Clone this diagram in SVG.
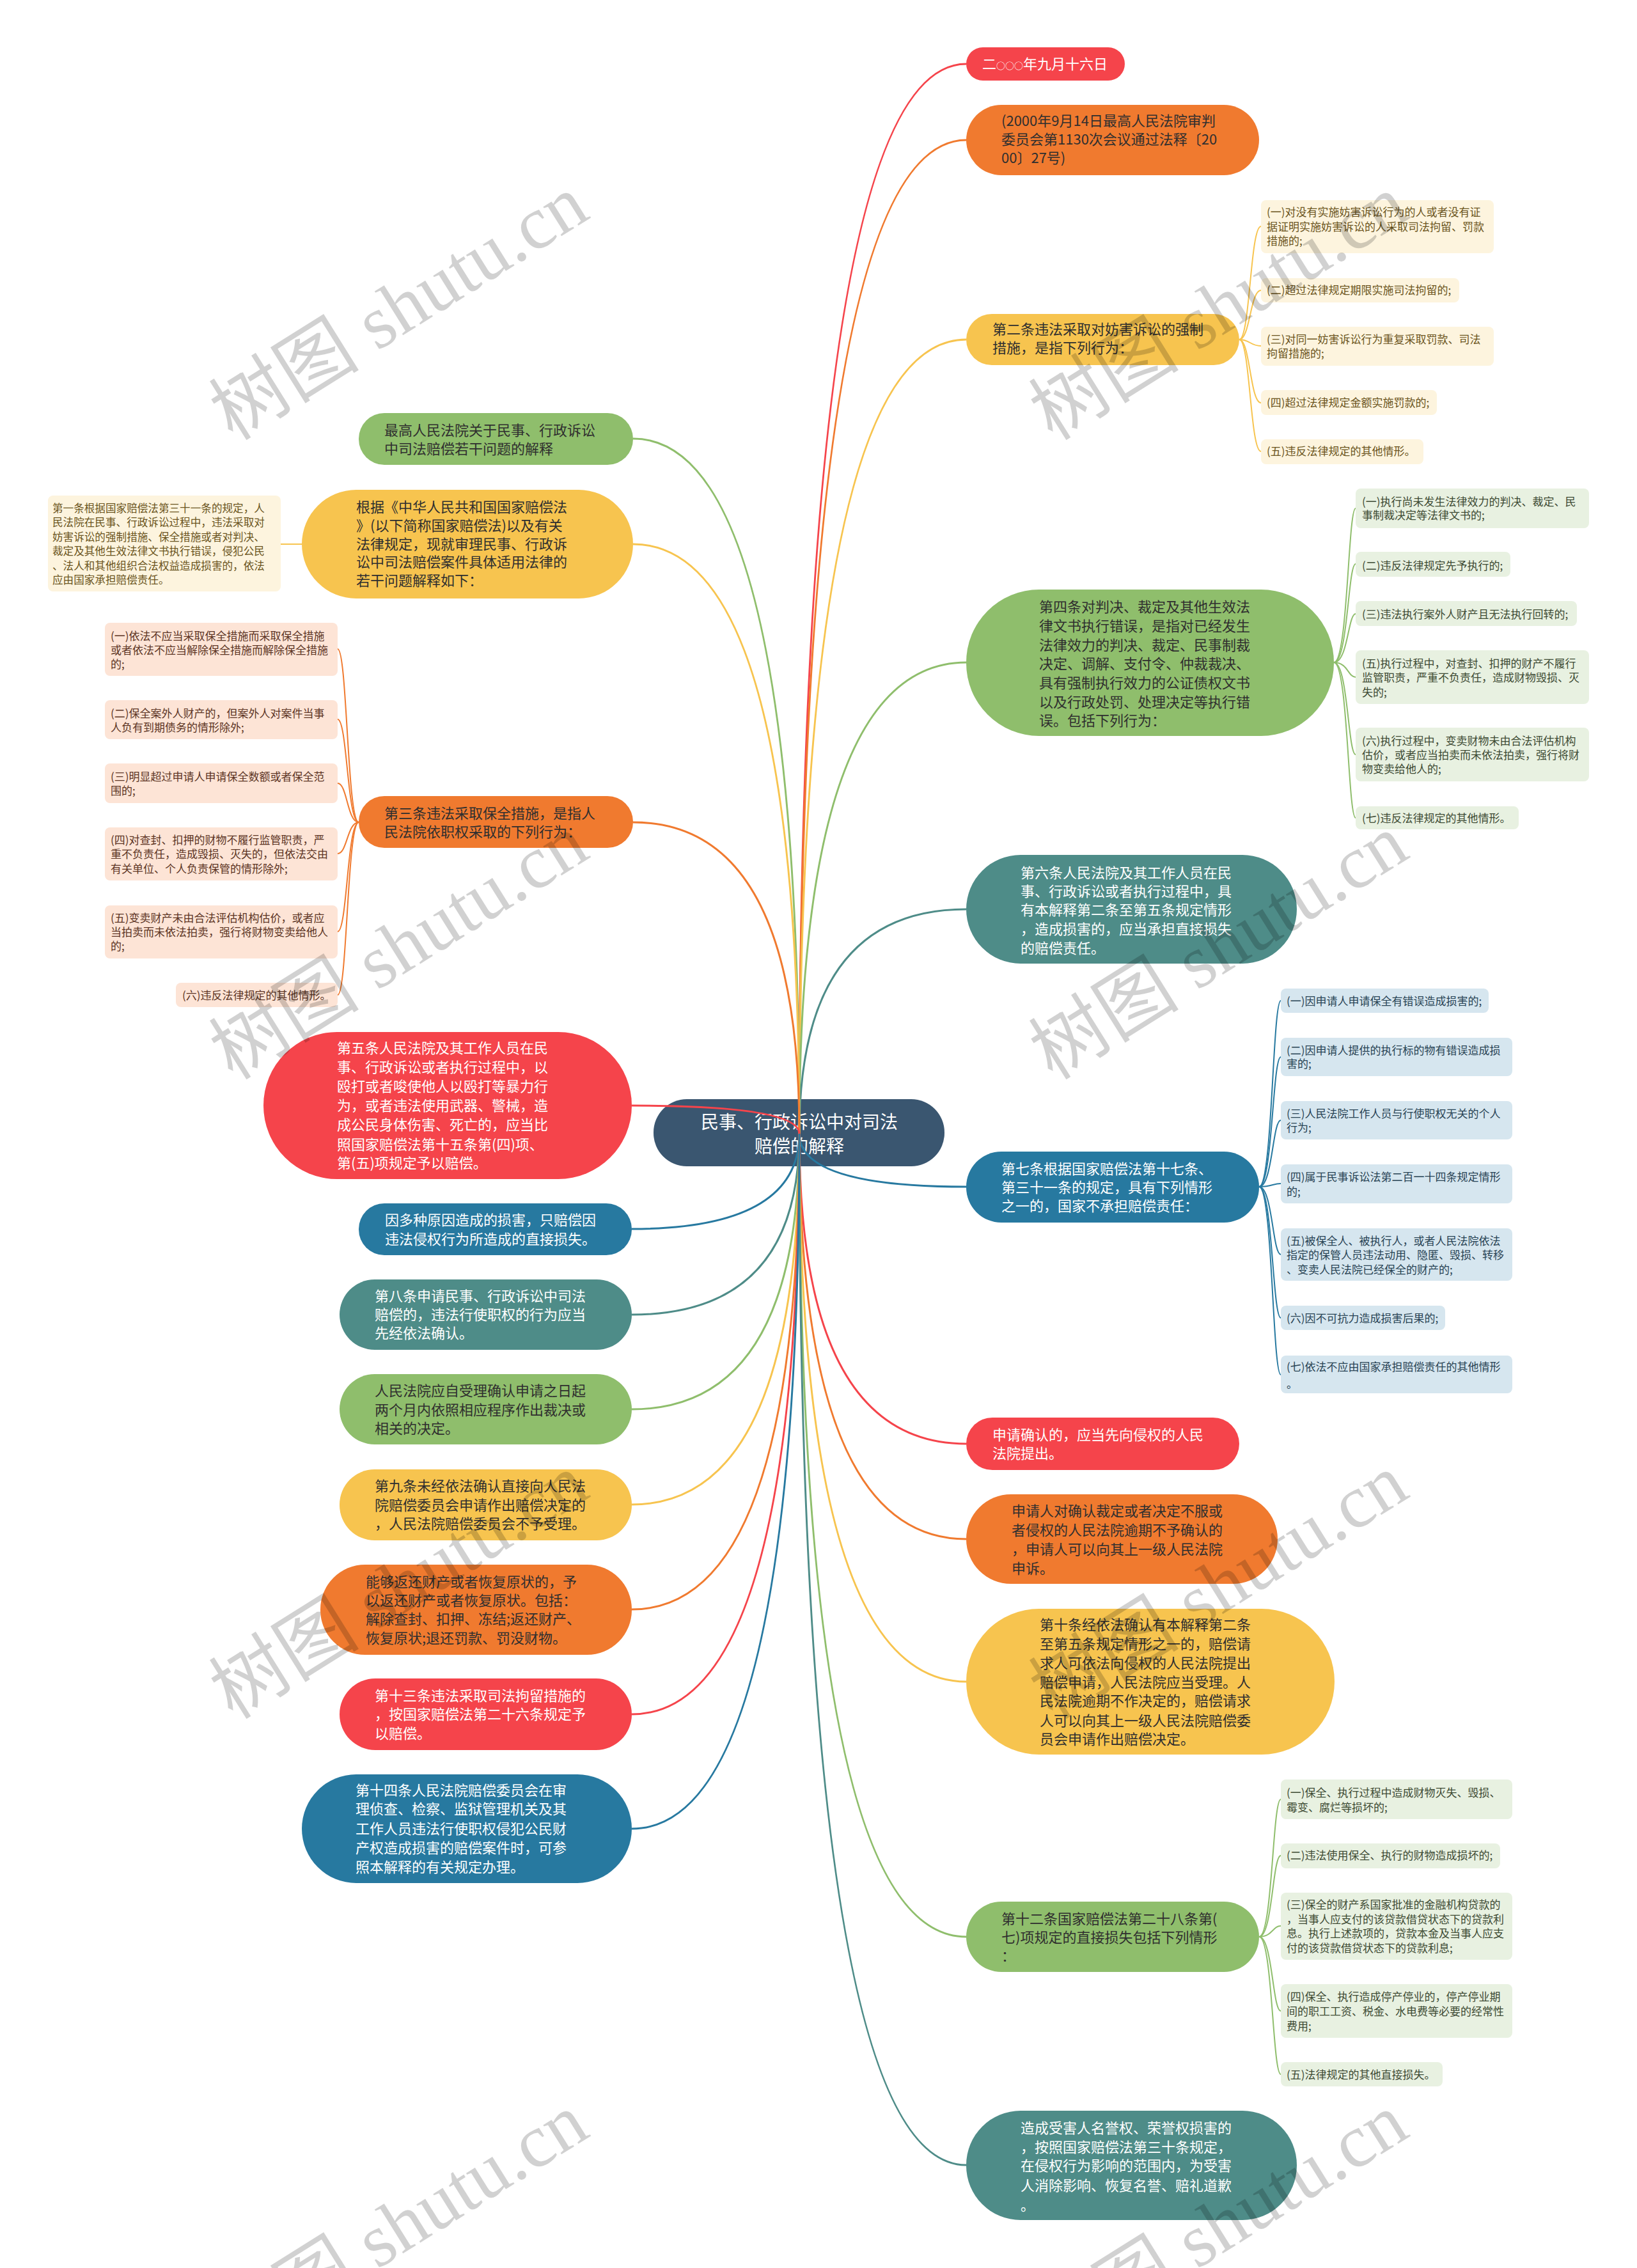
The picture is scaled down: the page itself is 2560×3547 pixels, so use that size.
<svg xmlns="http://www.w3.org/2000/svg" width="2560" height="3547" viewBox="0 0 2560 3547">
<style>
text { font-family: "Noto Sans CJK SC", "Liberation Sans", sans-serif; }
.t1 { font-size: 22px; }
.t2 { font-size: 17px; }
.t0 { font-size: 28px; fill: #ffffff; }
.w { fill: #ffffff; }
.d { fill: #2f2f2f; }
.cy { fill: #6b5420; }
.cg { fill: #3d4a33; }
.cb { fill: #284354; }
.co { fill: #5c3424; }
.red { fill: #f5444b; }
.org { fill: #f07a2f; }
.yel { fill: #f7c44f; }
.grn { fill: #8fbe6c; }
.tea { fill: #4e8c88; }
.blu { fill: #2779a0; }
.by { fill: #fdf4de; }
.bg { fill: #e8f1e1; }
.bb { fill: #d6e6ef; }
.bo { fill: #fde4d6; }
.c { fill: none; stroke-width: 3; }
.s { fill: none; stroke-width: 2; }
.sr { stroke: #f5444b; } .so { stroke: #f07a2f; } .sy { stroke: #f7c44f; }
.sg { stroke: #8fbe6c; } .st { stroke: #4e8c88; } .sb { stroke: #2779a0; }
.wm { font-family: "Liberation Serif", "Noto Sans CJK SC", serif; font-size: 118px; fill: #000000; fill-opacity: 0.18; }
</style>
<rect x="0" y="0" width="2560" height="3547" fill="#ffffff"/>

<g id="root">
<rect x="1022" y="1719" width="455" height="105" rx="52" fill="#3a5670"/>
<text class="t0" text-anchor="middle"><tspan x="1250" y="1765">民事、行政诉讼中对司法</tspan><tspan x="1250" y="1803">赔偿的解释</tspan></text>
</g>

<g id="connectors">
<path class="c sr" d="M1250 1773 Q1250 100 1511 100"/>
<path class="c so" d="M1250 1773 Q1250 219 1511 219"/>
<path class="c sy" d="M1250 1773 Q1250 531 1511 531"/>
<path class="c sg" d="M1250 1773 Q1250 1036 1511 1036"/>
<path class="c st" d="M1250 1773 Q1250 1422 1511 1422"/>
<path class="c sb" d="M1250 1773 Q1250 1856 1511 1856"/>
<path class="c sr" d="M1250 1773 Q1250 2258 1511 2258"/>
<path class="c so" d="M1250 1773 Q1250 2407 1511 2407"/>
<path class="c sy" d="M1250 1773 Q1250 2630 1511 2630"/>
<path class="c sg" d="M1250 1773 Q1250 3029 1511 3029"/>
<path class="c st" d="M1250 1773 Q1250 3386 1511 3386"/>
<path class="c sg" d="M1250 1773 Q1250 686 990 686"/>
<path class="c sy" d="M1250 1773 Q1250 851 990 851"/>
<path class="c so" d="M1250 1773 Q1250 1286 990 1286"/>
<path class="c sr" d="M1250 1773 Q1250 1729 988 1729"/>
<path class="c sb" d="M1250 1773 Q1250 1922 988 1922"/>
<path class="c st" d="M1250 1773 Q1250 2056 988 2056"/>
<path class="c sg" d="M1250 1773 Q1250 2204 988 2204"/>
<path class="c sy" d="M1250 1773 Q1250 2353 988 2353"/>
<path class="c so" d="M1250 1773 Q1250 2517 988 2517"/>
<path class="c sr" d="M1250 1773 Q1250 2681 988 2681"/>
<path class="c sb" d="M1250 1773 Q1250 2860 988 2860"/>
<!-- art2 children -->
<path class="s sy" d="M1938 531 C1955 531 1955 354 1972 354"/>
<path class="s sy" d="M1938 531 C1955 531 1955 454 1972 454"/>
<path class="s sy" d="M1938 531 C1955 531 1955 541 1972 541"/>
<path class="s sy" d="M1938 531 C1955 531 1955 630 1972 630"/>
<path class="s sy" d="M1938 531 C1955 531 1955 706 1972 706"/>
<!-- art4 children -->
<path class="s sg" d="M2086 1036 C2108 1036 2108 795 2120 795"/>
<path class="s sg" d="M2086 1036 C2108 1036 2108 882 2120 882"/>
<path class="s sg" d="M2086 1036 C2108 1036 2108 960 2120 960"/>
<path class="s sg" d="M2086 1036 C2108 1036 2108 1059 2120 1059"/>
<path class="s sg" d="M2086 1036 C2108 1036 2108 1180 2120 1180"/>
<path class="s sg" d="M2086 1036 C2108 1036 2108 1279 2120 1279"/>
<!-- art7 children -->
<path class="s sb" d="M1969 1856 C1990 1856 1990 1565 2003 1565"/>
<path class="s sb" d="M1969 1856 C1990 1856 1990 1653 2003 1653"/>
<path class="s sb" d="M1969 1856 C1990 1856 1990 1752 2003 1752"/>
<path class="s sb" d="M1969 1856 C1990 1856 1990 1851 2003 1851"/>
<path class="s sb" d="M1969 1856 C1990 1856 1990 1962 2003 1962"/>
<path class="s sb" d="M1969 1856 C1990 1856 1990 2061 2003 2061"/>
<path class="s sb" d="M1969 1856 C1990 1856 1990 2150 2003 2150"/>
<!-- art12 children -->
<path class="s sg" d="M1969 3029 C1990 3029 1990 2814 2003 2814"/>
<path class="s sg" d="M1969 3029 C1990 3029 1990 2902 2003 2902"/>
<path class="s sg" d="M1969 3029 C1990 3029 1990 3012 2003 3012"/>
<path class="s sg" d="M1969 3029 C1990 3029 1990 3145 2003 3145"/>
<path class="s sg" d="M1969 3029 C1990 3029 1990 3244 2003 3244"/>
<!-- art3 children -->
<path class="s so" d="M561 1286 C543 1286 543 1015 528 1015"/>
<path class="s so" d="M561 1286 C543 1286 543 1125 528 1125"/>
<path class="s so" d="M561 1286 C543 1286 543 1225 528 1225"/>
<path class="s so" d="M561 1286 C543 1286 543 1335 528 1335"/>
<path class="s so" d="M561 1286 C543 1286 543 1457 528 1457"/>
<path class="s so" d="M561 1286 C543 1286 543 1556 528 1556"/>
<!-- basis child -->
<path class="s sy" d="M472 851 L439 851"/>
</g>

<g id="n_date">
<rect class="red" x="1511" y="74" width="248" height="52" rx="26"/>
<text class="t1 w" x="1536" y="108">二<tspan style="font-size:14px">○○○</tspan>年九月十六日</text>
</g>

<g id="n_adopt">
<rect class="org" x="1511" y="164" width="458" height="110" rx="55"/>
<text class="t1 d"><tspan x="1566" y="197">(2000年9月14日最高人民法院审判</tspan><tspan x="1566" y="226">委员会第1130次会议通过法释〔20</tspan><tspan x="1566" y="255">00〕27号)</tspan></text>
</g>

<g id="n_art2">
<rect class="yel" x="1511" y="491" width="427" height="80" rx="40"/>
<text class="t1 d"><tspan x="1552" y="523">第二条违法采取对妨害诉讼的强制</tspan><tspan x="1552" y="552">措施，是指下列行为：</tspan></text>
</g>
<g id="n_art2_1">
<rect class="by" x="1972" y="313" width="364" height="83" rx="8"/>
<text class="t2 cy"><tspan x="1981" y="338">(一)对没有实施妨害诉讼行为的人或者没有证</tspan><tspan x="1981" y="361">据证明实施妨害诉讼的人采取司法拘留、罚款</tspan><tspan x="1981" y="383">措施的;</tspan></text>
</g>
<g id="n_art2_2">
<rect class="by" x="1972" y="435" width="310" height="38" rx="8"/>
<text class="t2 cy" x="1981" y="460">(二)超过法律规定期限实施司法拘留的;</text>
</g>
<g id="n_art2_3">
<rect class="by" x="1972" y="511" width="364" height="61" rx="8"/>
<text class="t2 cy"><tspan x="1981" y="537">(三)对同一妨害诉讼行为重复采取罚款、司法</tspan><tspan x="1981" y="559">拘留措施的;</tspan></text>
</g>
<g id="n_art2_4">
<rect class="by" x="1972" y="610" width="275" height="39" rx="8"/>
<text class="t2 cy" x="1981" y="636">(四)超过法律规定金额实施罚款的;</text>
</g>
<g id="n_art2_5">
<rect class="by" x="1972" y="687" width="254" height="39" rx="8"/>
<text class="t2 cy" x="1981" y="712">(五)违反法律规定的其他情形。</text>
</g>

<g id="n_art4">
<rect class="grn" x="1511" y="922" width="575" height="229" rx="114"/>
<text class="t1 d"><tspan x="1625" y="957">第四条对判决、裁定及其他生效法</tspan><tspan x="1625" y="987">律文书执行错误，是指对已经发生</tspan><tspan x="1625" y="1017">法律效力的判决、裁定、民事制裁</tspan><tspan x="1625" y="1046">决定、调解、支付令、仲裁裁决、</tspan><tspan x="1625" y="1076">具有强制执行效力的公证债权文书</tspan><tspan x="1625" y="1106">以及行政处罚、处理决定等执行错</tspan><tspan x="1625" y="1135">误。包括下列行为：</tspan></text>
</g>
<g id="n_art4_1">
<rect class="bg" x="2120" y="764" width="365" height="62" rx="8"/>
<text class="t2 cg"><tspan x="2130" y="791">(一)执行尚未发生法律效力的判决、裁定、民</tspan><tspan x="2130" y="812">事制裁决定等法律文书的;</tspan></text>
</g>
<g id="n_art4_2">
<rect class="bg" x="2120" y="863" width="242" height="39" rx="8"/>
<text class="t2 cg" x="2130" y="891">(二)违反法律规定先予执行的;</text>
</g>
<g id="n_art4_3">
<rect class="bg" x="2120" y="940" width="346" height="39" rx="8"/>
<text class="t2 cg" x="2130" y="967">(三)违法执行案外人财产且无法执行回转的;</text>
</g>
<g id="n_art4_5">
<rect class="bg" x="2120" y="1017" width="365" height="84" rx="8"/>
<text class="t2 cg"><tspan x="2130" y="1044">(五)执行过程中，对查封、扣押的财产不履行</tspan><tspan x="2130" y="1066">监管职责，严重不负责任，造成财物毁损、灭</tspan><tspan x="2130" y="1089">失的;</tspan></text>
</g>
<g id="n_art4_6">
<rect class="bg" x="2120" y="1138" width="365" height="84" rx="8"/>
<text class="t2 cg"><tspan x="2130" y="1165">(六)执行过程中，变卖财物未由合法评估机构</tspan><tspan x="2130" y="1187">估价，或者应当拍卖而未依法拍卖，强行将财</tspan><tspan x="2130" y="1209">物变卖给他人的;</tspan></text>
</g>
<g id="n_art4_7">
<rect class="bg" x="2120" y="1261" width="255" height="36" rx="8"/>
<text class="t2 cg" x="2130" y="1286">(七)违反法律规定的其他情形。</text>
</g>

<g id="n_art6">
<rect class="tea" x="1511" y="1337" width="517" height="170" rx="85"/>
<text class="t1 w"><tspan x="1596" y="1373">第六条人民法院及其工作人员在民</tspan><tspan x="1596" y="1402">事、行政诉讼或者执行过程中，具</tspan><tspan x="1596" y="1431">有本解释第二条至第五条规定情形</tspan><tspan x="1596" y="1461">，造成损害的，应当承担直接损失</tspan><tspan x="1596" y="1491">的赔偿责任。</tspan></text>
</g>

<g id="n_art7">
<rect class="blu" x="1511" y="1801" width="458" height="111" rx="55"/>
<text class="t1 w"><tspan x="1566" y="1836">第七条根据国家赔偿法第十七条、</tspan><tspan x="1566" y="1865">第三十一条的规定，具有下列情形</tspan><tspan x="1566" y="1894">之一的，国家不承担赔偿责任：</tspan></text>
</g>
<g id="n_art7_1">
<rect class="bb" x="2003" y="1546" width="325" height="38" rx="8"/>
<text class="t2 cb" x="2012" y="1572">(一)因申请人申请保全有错误造成损害的;</text>
</g>
<g id="n_art7_2">
<rect class="bb" x="2003" y="1623" width="362" height="60" rx="8"/>
<text class="t2 cb"><tspan x="2012" y="1649">(二)因申请人提供的执行标的物有错误造成损</tspan><tspan x="2012" y="1670">害的;</tspan></text>
</g>
<g id="n_art7_3">
<rect class="bb" x="2003" y="1722" width="362" height="60" rx="8"/>
<text class="t2 cb"><tspan x="2012" y="1748">(三)人民法院工作人员与行使职权无关的个人</tspan><tspan x="2012" y="1770">行为;</tspan></text>
</g>
<g id="n_art7_4">
<rect class="bb" x="2003" y="1821" width="362" height="61" rx="8"/>
<text class="t2 cb"><tspan x="2012" y="1847">(四)属于民事诉讼法第二百一十四条规定情形</tspan><tspan x="2012" y="1870">的;</tspan></text>
</g>
<g id="n_art7_5">
<rect class="bb" x="2003" y="1921" width="362" height="82" rx="8"/>
<text class="t2 cb"><tspan x="2012" y="1947">(五)被保全人、被执行人，或者人民法院依法</tspan><tspan x="2012" y="1969">指定的保管人员违法动用、隐匿、毁损、转移</tspan><tspan x="2012" y="1992">、变卖人民法院已经保全的财产的;</tspan></text>
</g>
<g id="n_art7_6">
<rect class="bb" x="2003" y="2042" width="257" height="38" rx="8"/>
<text class="t2 cb" x="2012" y="2068">(六)因不可抗力造成损害后果的;</text>
</g>
<g id="n_art7_7">
<rect class="bb" x="2003" y="2120" width="362" height="59" rx="8"/>
<text class="t2 cb"><tspan x="2012" y="2144">(七)依法不应由国家承担赔偿责任的其他情形</tspan><tspan x="2012" y="2171">。</tspan></text>
</g>

<g id="n_confirm">
<rect class="red" x="1511" y="2217" width="427" height="82" rx="41"/>
<text class="t1 w"><tspan x="1552" y="2252">申请确认的，应当先向侵权的人民</tspan><tspan x="1552" y="2281">法院提出。</tspan></text>
</g>

<g id="n_appeal">
<rect class="org" x="1511" y="2337" width="487" height="140" rx="70"/>
<text class="t1 d"><tspan x="1582" y="2371">申请人对确认裁定或者决定不服或</tspan><tspan x="1582" y="2401">者侵权的人民法院逾期不予确认的</tspan><tspan x="1582" y="2431">，申请人可以向其上一级人民法院</tspan><tspan x="1582" y="2461">申诉。</tspan></text>
</g>

<g id="n_art10">
<rect class="yel" x="1511" y="2516" width="576" height="228" rx="114"/>
<text class="t1 d"><tspan x="1626" y="2549">第十条经依法确认有本解释第二条</tspan><tspan x="1626" y="2579">至第五条规定情形之一的，赔偿请</tspan><tspan x="1626" y="2609">求人可依法向侵权的人民法院提出</tspan><tspan x="1626" y="2639">赔偿申请，人民法院应当受理。人</tspan><tspan x="1626" y="2668">民法院逾期不作决定的，赔偿请求</tspan><tspan x="1626" y="2699">人可以向其上一级人民法院赔偿委</tspan><tspan x="1626" y="2728">员会申请作出赔偿决定。</tspan></text>
</g>

<g id="n_art12">
<rect class="grn" x="1511" y="2974" width="458" height="110" rx="55"/>
<text class="t1 d"><tspan x="1566" y="3009">第十二条国家赔偿法第二十八条第(</tspan><tspan x="1566" y="3038">七)项规定的直接损失包括下列情形</tspan><tspan x="1566" y="3067">：</tspan></text>
</g>
<g id="n_art12_1">
<rect class="bg" x="2003" y="2783" width="362" height="62" rx="8"/>
<text class="t2 cg"><tspan x="2012" y="2810">(一)保全、执行过程中造成财物灭失、毁损、</tspan><tspan x="2012" y="2833">霉变、腐烂等损坏的;</tspan></text>
</g>
<g id="n_art12_2">
<rect class="bg" x="2003" y="2883" width="343" height="39" rx="8"/>
<text class="t2 cg" x="2012" y="2908">(二)违法使用保全、执行的财物造成损坏的;</text>
</g>
<g id="n_art12_3">
<rect class="bg" x="2003" y="2960" width="362" height="105" rx="8"/>
<text class="t2 cg"><tspan x="2012" y="2985">(三)保全的财产系国家批准的金融机构贷款的</tspan><tspan x="2012" y="3008">，当事人应支付的该贷款借贷状态下的贷款利</tspan><tspan x="2012" y="3030">息。执行上述款项的，贷款本金及当事人应支</tspan><tspan x="2012" y="3053">付的该贷款借贷状态下的贷款利息;</tspan></text>
</g>
<g id="n_art12_4">
<rect class="bg" x="2003" y="3103" width="362" height="84" rx="8"/>
<text class="t2 cg"><tspan x="2012" y="3129">(四)保全、执行造成停产停业的，停产停业期</tspan><tspan x="2012" y="3152">间的职工工资、税金、水电费等必要的经常性</tspan><tspan x="2012" y="3175">费用;</tspan></text>
</g>
<g id="n_art12_5">
<rect class="bg" x="2003" y="3225" width="253" height="38" rx="8"/>
<text class="t2 cg" x="2012" y="3251">(五)法律规定的其他直接损失。</text>
</g>

<g id="n_reputation">
<rect class="tea" x="1511" y="3301" width="517" height="171" rx="85"/>
<text class="t1 w"><tspan x="1596" y="3336">造成受害人名誉权、荣誉权损害的</tspan><tspan x="1596" y="3366">，按照国家赔偿法第三十条规定，</tspan><tspan x="1596" y="3395">在侵权行为影响的范围内，为受害</tspan><tspan x="1596" y="3426">人消除影响、恢复名誉、赔礼道歉</tspan><tspan x="1596" y="3457">。</tspan></text>
</g>

<g id="n_title">
<rect class="grn" x="561" y="646" width="429" height="81" rx="40"/>
<text class="t1 d"><tspan x="601" y="681">最高人民法院关于民事、行政诉讼</tspan><tspan x="601" y="710">中司法赔偿若干问题的解释</tspan></text>
</g>

<g id="n_basis">
<rect class="yel" x="472" y="766" width="518" height="170" rx="85"/>
<text class="t1 d"><tspan x="557" y="801">根据《中华人民共和国国家赔偿法</tspan><tspan x="557" y="830">》(以下简称国家赔偿法)以及有关</tspan><tspan x="557" y="859">法律规定，现就审理民事、行政诉</tspan><tspan x="557" y="887">讼中司法赔偿案件具体适用法律的</tspan><tspan x="557" y="916">若干问题解释如下：</tspan></text>
</g>
<g id="n_art1">
<rect class="by" x="75" y="775" width="364" height="150" rx="8"/>
<text class="t2 cy" style="font-size:16.6px"><tspan x="82" y="801">第一条根据国家赔偿法第三十一条的规定，人</tspan><tspan x="82" y="823">民法院在民事、行政诉讼过程中，违法采取对</tspan><tspan x="82" y="846">妨害诉讼的强制措施、保全措施或者对判决、</tspan><tspan x="82" y="868">裁定及其他生效法律文书执行错误，侵犯公民</tspan><tspan x="82" y="891">、法人和其他组织合法权益造成损害的，依法</tspan><tspan x="82" y="913">应由国家承担赔偿责任。</tspan></text>
</g>

<g id="n_art3">
<rect class="org" x="561" y="1245" width="429" height="81" rx="40"/>
<text class="t1 d"><tspan x="601" y="1280">第三条违法采取保全措施，是指人</tspan><tspan x="601" y="1309">民法院依职权采取的下列行为：</tspan></text>
</g>
<g id="n_art3_1">
<rect class="bo" x="164" y="974" width="364" height="83" rx="8"/>
<text class="t2 co"><tspan x="173" y="1001">(一)依法不应当采取保全措施而采取保全措施</tspan><tspan x="173" y="1023">或者依法不应当解除保全措施而解除保全措施</tspan><tspan x="173" y="1045">的;</tspan></text>
</g>
<g id="n_art3_2">
<rect class="bo" x="164" y="1095" width="364" height="61" rx="8"/>
<text class="t2 co"><tspan x="173" y="1122">(二)保全案外人财产的，但案外人对案件当事</tspan><tspan x="173" y="1144">人负有到期债务的情形除外;</tspan></text>
</g>
<g id="n_art3_3">
<rect class="bo" x="164" y="1194" width="364" height="62" rx="8"/>
<text class="t2 co"><tspan x="173" y="1221">(三)明显超过申请人申请保全数额或者保全范</tspan><tspan x="173" y="1243">围的;</tspan></text>
</g>
<g id="n_art3_4">
<rect class="bo" x="164" y="1294" width="364" height="83" rx="8"/>
<text class="t2 co"><tspan x="173" y="1320">(四)对查封、扣押的财物不履行监管职责，严</tspan><tspan x="173" y="1342">重不负责任，造成毁损、灭失的，但依法交由</tspan><tspan x="173" y="1365">有关单位、个人负责保管的情形除外;</tspan></text>
</g>
<g id="n_art3_5">
<rect class="bo" x="164" y="1416" width="364" height="83" rx="8"/>
<text class="t2 co"><tspan x="173" y="1442">(五)变卖财产未由合法评估机构估价，或者应</tspan><tspan x="173" y="1464">当拍卖而未依法拍卖，强行将财物变卖给他人</tspan><tspan x="173" y="1486">的;</tspan></text>
</g>
<g id="n_art3_6">
<rect class="bo" x="275" y="1537" width="253" height="38" rx="8"/>
<text class="t2 co" x="285" y="1563">(六)违反法律规定的其他情形。</text>
</g>

<g id="n_art5">
<rect class="red" x="412" y="1614" width="576" height="230" rx="115"/>
<text class="t1 w"><tspan x="527" y="1647">第五条人民法院及其工作人员在民</tspan><tspan x="527" y="1677">事、行政诉讼或者执行过程中，以</tspan><tspan x="527" y="1707">殴打或者唆使他人以殴打等暴力行</tspan><tspan x="527" y="1737">为，或者违法使用武器、警械，造</tspan><tspan x="527" y="1767">成公民身体伤害、死亡的，应当比</tspan><tspan x="527" y="1798">照国家赔偿法第十五条第(四)项、</tspan><tspan x="527" y="1827">第(五)项规定予以赔偿。</tspan></text>
</g>

<g id="n_multi">
<rect class="blu" x="561" y="1882" width="427" height="81" rx="40"/>
<text class="t1 w"><tspan x="602" y="1916">因多种原因造成的损害，只赔偿因</tspan><tspan x="602" y="1946">违法侵权行为所造成的直接损失。</tspan></text>
</g>

<g id="n_art8">
<rect class="tea" x="531" y="2001" width="457" height="110" rx="55"/>
<text class="t1 w"><tspan x="586" y="2035">第八条申请民事、行政诉讼中司法</tspan><tspan x="586" y="2064">赔偿的，违法行使职权的行为应当</tspan><tspan x="586" y="2093">先经依法确认。</tspan></text>
</g>

<g id="n_2months">
<rect class="grn" x="531" y="2149" width="457" height="110" rx="55"/>
<text class="t1 d"><tspan x="586" y="2183">人民法院应自受理确认申请之日起</tspan><tspan x="586" y="2213">两个月内依照相应程序作出裁决或</tspan><tspan x="586" y="2242">相关的决定。</tspan></text>
</g>

<g id="n_art9">
<rect class="yel" x="531" y="2298" width="457" height="111" rx="55"/>
<text class="t1 d"><tspan x="586" y="2332">第九条未经依法确认直接向人民法</tspan><tspan x="586" y="2362">院赔偿委员会申请作出赔偿决定的</tspan><tspan x="586" y="2391">，人民法院赔偿委员会不予受理。</tspan></text>
</g>

<g id="n_return">
<rect class="org" x="501" y="2447" width="487" height="141" rx="70"/>
<text class="t1 d"><tspan x="572" y="2482">能够返还财产或者恢复原状的，予</tspan><tspan x="572" y="2511">以返还财产或者恢复原状。包括：</tspan><tspan x="572" y="2540">解除查封、扣押、冻结;返还财产、</tspan><tspan x="572" y="2570">恢复原状;退还罚款、罚没财物。</tspan></text>
</g>

<g id="n_art13">
<rect class="red" x="531" y="2625" width="457" height="112" rx="56"/>
<text class="t1 w"><tspan x="586" y="2660">第十三条违法采取司法拘留措施的</tspan><tspan x="586" y="2689">，按国家赔偿法第二十六条规定予</tspan><tspan x="586" y="2719">以赔偿。</tspan></text>
</g>

<g id="n_art14">
<rect class="blu" x="472" y="2775" width="516" height="170" rx="85"/>
<text class="t1 w"><tspan x="556" y="2808">第十四条人民法院赔偿委员会在审</tspan><tspan x="556" y="2837">理侦查、检察、监狱管理机关及其</tspan><tspan x="556" y="2868">工作人员违法行使职权侵犯公民财</tspan><tspan x="556" y="2898">产权造成损害的赔偿案件时，可参</tspan><tspan x="556" y="2928">照本解释的有关规定办理。</tspan></text>
</g>

<g id="watermarks">
<text class="wm" text-anchor="middle" transform="translate(645 515) rotate(-32)">树图 shutu.cn</text>
<text class="wm" text-anchor="middle" transform="translate(1927 515) rotate(-32)">树图 shutu.cn</text>
<text class="wm" text-anchor="middle" transform="translate(645 1515) rotate(-32)">树图 shutu.cn</text>
<text class="wm" text-anchor="middle" transform="translate(1927 1515) rotate(-32)">树图 shutu.cn</text>
<text class="wm" text-anchor="middle" transform="translate(645 2515) rotate(-32)">树图 shutu.cn</text>
<text class="wm" text-anchor="middle" transform="translate(1927 2515) rotate(-32)">树图 shutu.cn</text>
<text class="wm" text-anchor="middle" transform="translate(645 3515) rotate(-32)">树图 shutu.cn</text>
<text class="wm" text-anchor="middle" transform="translate(1927 3515) rotate(-32)">树图 shutu.cn</text>
</g>
</svg>
